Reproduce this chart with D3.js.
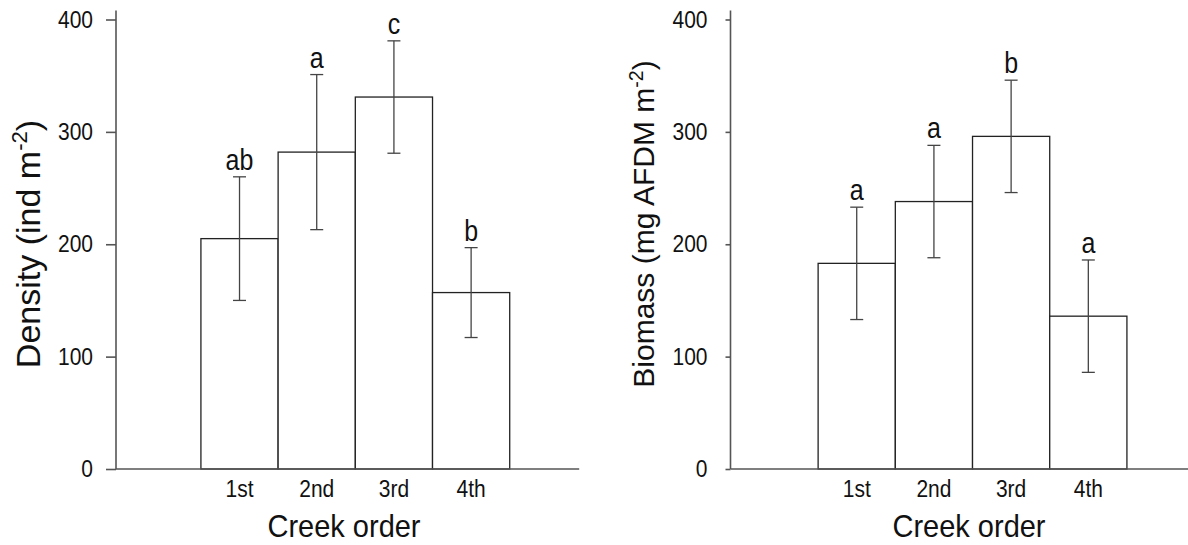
<!DOCTYPE html>
<html>
<head>
<meta charset="UTF-8">
<script src="https://d3js.org/d3.v7.min.js"></script>
<style>
    body { margin: 0; background: #fff; }
    svg { display: block; font-family: "Liberation Sans", Arial, sans-serif; }
</style>
</head>
<body>
<svg id="chart" width="1188" height="545"></svg>
<script>
// data
const creekOrders = ['1st', '2nd', '3rd', '4th'];
const yTicks = [0, 100, 200, 300, 400];

const densityMean = [205, 282, 331, 157];
const densityErr  = [55, 69, 50, 40];
const densityLetters = ['ab', 'a', 'c', 'b'];

const biomassMean = [183, 238, 296, 136];
const biomassErr  = [50, 50, 50, 50];
const biomassLetters = ['a', 'a', 'b', 'a'];

const svg = d3.select('#chart');

// panel settings
const panels = [
    { left: 116, barStart: 1.10, tickLen: 10, titleX: 40, titleY: 244, titleSize: 34, xTitleX: 344,
      yLabel: ['Density (ind m', ')'], mean: densityMean, err: densityErr, letters: densityLetters },
    { left: 730.5, barStart: 1.135, tickLen: 5, titleX: 654, titleY: 224, titleSize: 30, xTitleX: 969,
      yLabel: ['Biomass (mg AFDM m', ')'], mean: biomassMean, err: biomassErr, letters: biomassLetters }
];

const slot = 77.2;
const stretch = 1.15;   // glyphs in the figure are a bit taller than Arial
const y = d3.scaleLinear().domain([0, 400]).range([469, 19.5]);

// horizontal text, stretched vertically about its baseline
function label(g, x, yy, txt, size, sy) {
    return g.append('text')
        .attr('transform', `translate(${x},${yy}) scale(1,${sy})`)
        .attr('text-anchor', 'middle')
        .attr('font-size', size)
        .attr('fill', '#111')
        .text(txt);
}

panels.forEach(p => {
    const x = d3.scaleLinear().domain([0, 6]).range([p.left, p.left + 6 * slot]);
    const band = d3.scaleBand().domain(creekOrders)
        .range([x(p.barStart), x(p.barStart + 4)]).padding(0);
    const cx = d => band(d) + band.bandwidth() / 2;

    const g = svg.append('g');

    // bars
    g.selectAll('rect.bar')
        .data(creekOrders)
        .enter().append('rect')
        .attr('class', 'bar')
        .attr('x', d => band(d))
        .attr('y', (d, i) => y(p.mean[i]))
        .attr('width', band.bandwidth())
        .attr('height', (d, i) => y(0) - y(p.mean[i]))
        .attr('fill', '#fff')
        .attr('stroke', '#222')
        .attr('stroke-width', 1.3);

    // error bars
    const eb = g.selectAll('g.err').data(creekOrders).enter().append('g')
        .attr('stroke', '#444').attr('stroke-width', 1.3);
    eb.append('line')
        .attr('x1', cx).attr('x2', cx)
        .attr('y1', (d, i) => y(p.mean[i] + p.err[i]))
        .attr('y2', (d, i) => y(p.mean[i] - p.err[i]));
    [1, -1].forEach(s => {
        eb.append('line')
            .attr('x1', d => cx(d) - 6.5).attr('x2', d => cx(d) + 6.5)
            .attr('y1', (d, i) => y(p.mean[i] + s * p.err[i]))
            .attr('y2', (d, i) => y(p.mean[i] + s * p.err[i]));
    });

    // significance letters
    creekOrders.forEach((d, i) => {
        label(g, cx(d), y(p.mean[i] + p.err[i]) - 7, p.letters[i], 25, stretch);
    });

    // y axis
    const yAxis = g.append('g')
        .attr('transform', `translate(${p.left},0)`)
        .call(d3.axisLeft(y).tickValues(yTicks).tickSize(p.tickLen).tickPadding(23 - p.tickLen));
    yAxis.select('.domain').remove();
    yAxis.append('line')
        .attr('x1', 0).attr('x2', 0)
        .attr('y1', y(408)).attr('y2', y(0))
        .attr('stroke', '#555').attr('stroke-width', 1.6);
    yAxis.selectAll('.tick line').attr('stroke', '#555').attr('stroke-width', 1.6);
    yAxis.selectAll('.tick text')
        .attr('font-size', 21).attr('fill', '#111')
        .attr('font-family', '"Liberation Sans", Arial, sans-serif')
        .attr('transform', `scale(1,${stretch})`);

    // x axis baseline
    g.append('line')
        .attr('x1', p.left).attr('x2', x(6))
        .attr('y1', y(0)).attr('y2', y(0))
        .attr('stroke', '#555').attr('stroke-width', 1.6);

    // x tick labels
    creekOrders.forEach(d => label(g, cx(d), 497, d, 21, stretch));

    // x title
    label(g, p.xTitleX, 537, 'Creek order', 29, 1.08);

    // y title
    const yt = g.append('text')
        .attr('transform', `translate(${p.titleX},${p.titleY}) rotate(-90)`)
        .attr('text-anchor', 'middle')
        .attr('font-size', p.titleSize)
        .attr('fill', '#111');
    yt.append('tspan').text(p.yLabel[0]);
    yt.append('tspan').attr('font-size', p.titleSize * 0.65).attr('dy', -p.titleSize * 0.38).text('-2');
    yt.append('tspan').attr('dy', p.titleSize * 0.38).text(p.yLabel[1]);
});
</script>
</body>
</html>
